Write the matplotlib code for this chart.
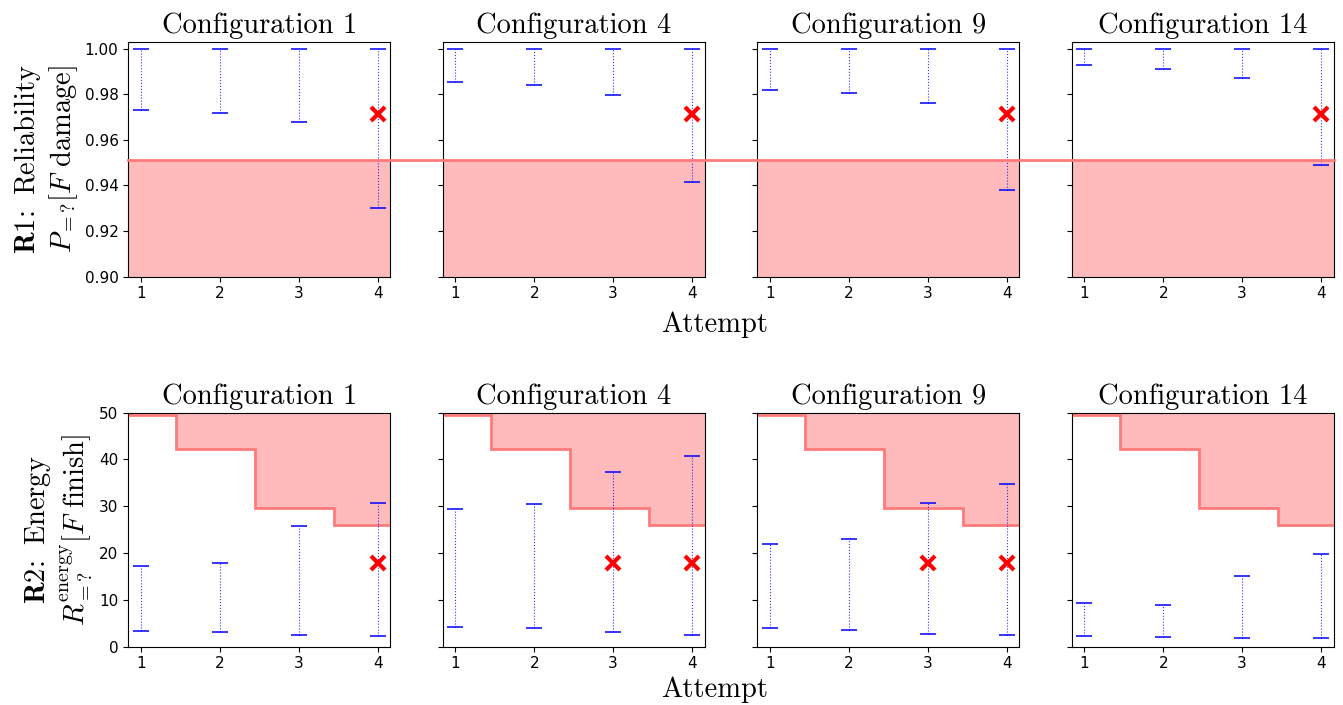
import numpy as np
import matplotlib.pyplot as plt
from matplotlib.lines import Line2D
from matplotlib.transforms import blended_transform_factory

plt.rcParams['mathtext.fontset'] = 'cm'
plt.rcParams['axes.unicode_minus'] = False
plt.rcParams['xtick.labelsize'] = 11
plt.rcParams['ytick.labelsize'] = 11

configs = ['Configuration 1', 'Configuration 4', 'Configuration 9', 'Configuration 14']
attempts = [1, 2, 3, 4]

# R1 reliability intervals per configuration (rows) and attempt (cols)
r1_low = [[0.9731, 0.9717, 0.9676, 0.9300],
          [0.9854, 0.9839, 0.9798, 0.9417],
          [0.9817, 0.9803, 0.9763, 0.9382],
          [0.9926, 0.9911, 0.9869, 0.9488]]
r1_high = [[1.0, 1.0, 1.0, 1.0],
           [1.0, 1.0, 1.0, 1.0],
           [1.0, 1.0, 1.0, 1.0],
           [1.0, 1.0, 1.0, 1.0]]
r1_bound = 0.951
r1_fail_att = [[4], [4], [4], [4]]
r1_fail_val = [[0.9715], [0.9715], [0.9715], [0.9715]]

# R2 energy intervals
r2_low = [[3.3, 3.1, 2.5, 2.3],
          [4.2, 3.9, 3.1, 2.6],
          [3.9, 3.5, 2.8, 2.4],
          [2.3, 2.1, 1.9, 1.8]]
r2_high = [[17.3, 17.8, 25.7, 30.8],
           [29.4, 30.4, 37.4, 40.7],
           [21.9, 23.1, 30.8, 34.7],
           [9.4, 9.0, 15.0, 19.9]]
r2_bound = [49.4, 42.3, 29.6, 26.1]
r2_fail_att = [[4], [3, 4], [3, 4], []]
r2_fail_val = [[17.9], [17.9, 17.9], [17.9, 17.9], []]

fill_c = '#ffbbbb'
line_c = '#ff7b7b'
cm = 'cmr10'
fs = 20.5

fig = plt.figure(figsize=(13.43, 7.05), dpi=100)
lefts = [0.0955, 0.3296, 0.5639, 0.798]
w = 0.1951
rows = [(0.6075, 0.3334), (0.0827, 0.332)]

axes = [[fig.add_axes([l, b, w, h]) for l in lefts] for b, h in rows]


def draw_bars(ax, low, high):
    low = np.array(low)
    high = np.array(high)
    mid = (low + high) / 2
    eb = ax.errorbar(attempts, mid, yerr=[mid - low, high - mid], fmt='none',
                     ecolor='blue', elinewidth=0.8, capsize=6, capthick=1.1, zorder=3)
    eb[2][0].set_linestyle(':')
    eb[2][0].set_alpha(0.8)


edges = [0.5] + [a + 0.45 for a in attempts[:-1]] + [attempts[-1] + 0.5]

for i, name in enumerate(configs):
    # top row
    ax = axes[0][i]
    ax.axhspan(0.9, r1_bound, color=fill_c, lw=0, zorder=1)
    draw_bars(ax, r1_low[i], r1_high[i])
    ax.plot(r1_fail_att[i], r1_fail_val[i], 'x', color='red', ms=10, mew=3, zorder=4)
    ax.set_ylim(0.9, 1.003)
    ax.set_yticks([0.90, 0.92, 0.94, 0.96, 0.98, 1.00])
    ax.set_xlim(0.84, 4.16)
    ax.set_xticks(attempts)
    ax.set_title(name, fontfamily=cm, fontsize=fs)

    # bottom row
    ax = axes[1][i]
    ax.stairs(r2_bound, edges, baseline=50, fill=True, color=fill_c, zorder=1)
    ax.stairs(r2_bound, edges, baseline=None, color=line_c, lw=2, zorder=2)
    draw_bars(ax, r2_low[i], r2_high[i])
    if r2_fail_att[i]:
        ax.plot(r2_fail_att[i], r2_fail_val[i], 'x', color='red', ms=10, mew=3, zorder=4)
    ax.set_ylim(0, 50)
    ax.set_yticks([0, 10, 20, 30, 40, 50])
    ax.set_xlim(0.84, 4.16)
    ax.set_xticks(attempts)
    ax.set_title(name, fontfamily=cm, fontsize=fs)

    if i > 0:
        axes[0][i].set_yticklabels([])
        axes[1][i].set_yticklabels([])

axes[0][0].set_ylabel(r'$\mathbf{R1}\!\mathbf{:}$ Reliability' + '\n'
                      + r'$P_{=?}[F\ \mathrm{damage}]$',
                      fontfamily=cm, fontsize=fs, labelpad=3)
axes[1][0].set_ylabel(r'$\mathbf{R2}\!\mathbf{:}$ Energy' + '\n'
                      + r'$R^{\mathrm{energy}}_{=?}[F\ \mathrm{finish}]$',
                      fontfamily=cm, fontsize=fs, labelpad=3)

# threshold line across the whole top row
trans = blended_transform_factory(fig.transFigure, axes[0][0].transData)
fig.add_artist(Line2D([lefts[0], lefts[-1] + w], [r1_bound, r1_bound],
                      transform=trans, color=line_c, lw=2))

fig.text(0.532, 0.539, 'Attempt', ha='center', va='center', fontfamily=cm, fontsize=fs)
fig.text(0.532, 0.021, 'Attempt', ha='center', va='center', fontfamily=cm, fontsize=fs)

fig.savefig('out.png', dpi=100)
